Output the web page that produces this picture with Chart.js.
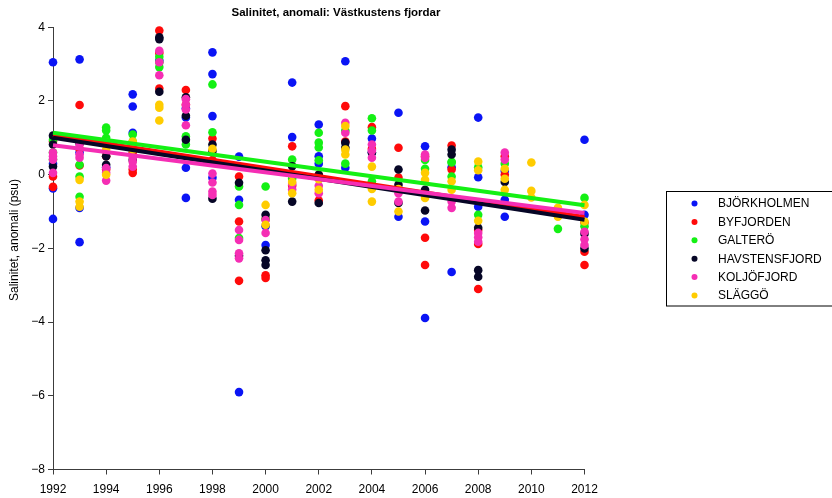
<!DOCTYPE html>
<html>
<head>
<meta charset="utf-8">
<script src="https://cdn.jsdelivr.net/npm/chart.js@4.4.1/dist/chart.umd.min.js"></script>
<style>
    html, body { margin: 0; padding: 0; background: #fff; }
    #wrap { position: relative; width: 832px; height: 498px; }
</style>
</head>
<body>
<div id="wrap"><canvas id="salinityChart" width="832" height="498"></canvas></div>
<script>
// Years of the measurement columns
const years = [1992, 1993, 1994, 1995, 1996, 1997, 1998, 1999, 2000, 2001, 2002,
               2003, 2004, 2005, 2006, 2007, 2008, 2009, 2010, 2011, 2012];

// Salinity anomaly (psu), one list of readings per year
const bjorkholmen = [[3.05, -0.37, -1.2, 0.3], [3.13, -0.9, -1.83, 0.6], [0.2, 0.9], [2.18, 1.85, 1.14],
    [3.1], [1.55, 0.19, -0.63, 1.8], [3.32, 2.73, 1.59, -0.08], [0.49, -0.68, -5.9], [-1.91, -1.4],
    [2.5, 1.02], [1.36, 0.5, 0.3], [3.08, 0.19], [0.98, 0.6], [1.68, -1.14], [0.77, -1.27, -3.89],
    [0.2, -2.64], [1.55, -0.07, -0.87], [-0.68, -1.14, 0.1], [], [], [0.95, -1.09]];
const byfjorden = [[-0.05, -0.33, 0.9], [1.89, 0.25, 0.7], [0.14, 0.5], [0.14, 0.05, 0.6],
    [3.91, 2.34, 3.3], [2.3, 1.9], [0.98, 0.4], [-0.05, -1.27, -2.88], [-2.73, -2.8, -1.2],
    [0.77, -0.3], [-0.7, 0.0], [1.86, 0.9], [1.29, 0.7], [0.73, -0.08], [-1.71, -2.45, 0.5],
    [0.79, 0.14], [-1.88, -3.1, -1.5], [0.0, 0.5], [], [], [-2.09, -2.45, -1.3]];
const galtero = [[0.41, 0.95, 0.6], [0.27, -0.05, -0.6], [1.28, 1.2, 1.0], [1.09, 0.9],
    [3.2, 2.92, 3.05], [1.04, 0.82], [2.45, 1.15], [-0.32, -0.82, -1.72], [-0.32, -1.2],
    [0.41, -0.1], [1.14, 0.87, 0.74, 0.39], [0.3, 1.2], [1.53, 1.2, -0.18], [-0.4], [0.16, 0.4],
    [0.35, 0.33, -0.05], [-1.09, 0.2], [0.3], [], [-1.47, -1.0], [-0.63, -1.4]];
const havstensfjord = [[1.06, 0.82, 0.22], [0.95, 0.85], [0.5, 0.27], [0.4], [3.73, 3.68, 2.25],
    [2.1, 1.6, 0.95], [0.82, 0.64, -0.65], [-0.22, -2.2], [-1.09, -2.05, -2.32, -2.45],
    [0.23, -0.73], [0.0, -0.77], [0.87, 0.74], [0.6], [0.14, -0.27, -0.77], [-0.41, -0.97],
    [0.68, 0.55], [-1.44, -2.59, -2.77], [-0.2], [], [], [-2.0, -1.6]];
const koljofjord = [[0.6, 0.41, 0.05, 0.5], [0.82, 0.46, 0.55], [0.18, 0.05, -0.16], [0.46, 0.22, 0.35],
    [3.36, 3.05, 2.7], [2.05, 1.77, 1.34, 1.9], [0.03, -0.21, -0.46, -0.55], [-1.5, -1.77, -2.13, -2.27],
    [-1.23, -1.58], [-0.25, -0.4], [-0.5, -0.3], [1.41, 1.14], [0.82, 0.65, 0.46], [-0.5, -0.73],
    [0.55, 0.46], [-0.73, -0.9], [-1.58, -1.7, -1.82], [0.6, 0.41], [], [], [-1.55, -1.75, -1.91]];
const slaggo = [[], [-0.14, -0.73, -0.87], [0.87, 0.68, 0.0], [0.9, 0.68], [1.9, 1.82, 1.47], [],
    [0.7], [], [-0.82, -1.36], [0.0, -0.2, -0.5], [-0.12, -0.41], [1.32, 0.68, 0.55],
    [0.22, -0.39, -0.73], [-0.39, -1.0], [0.05, -0.14, -0.63], [-0.18, -0.41], [0.36, 0.12, -1.25],
    [0.16, -0.11, -0.41], [0.33, -0.44, -0.62], [-0.9, -1.0, -1.14], [-0.82, -1.27]];

// Trend lines, value at first and last year
const trendYears = [1992, 2012];
const trendByfjorden = [1.07, -1.15];
const trendGaltero = [1.14, -0.83];
const trendHavstensfjord = [1.0, -1.22];
const trendKoljofjord = [0.8, -1.04];

const yTicks = [-8, -6, -4, -2, 0, 2, 4];
const xTicks = [1992, 1994, 1996, 1998, 2000, 2002, 2004, 2006, 2008, 2010, 2012];

const chartTitle = 'Salinitet, anomali: Västkustens fjordar';
const yTitle = 'Salinitet, anomali (psu)';

const FONT = '"Liberation Sans", Arial, Helvetica, sans-serif';

const series = [
    { label: 'BJÖRKHOLMEN', data: bjorkholmen, color: '#0a14f5', order: 9 },
    { label: 'BYFJORDEN', data: byfjorden, color: '#ff0a0a', order: 8 },
    { label: 'GALTERÖ', data: galtero, color: '#14f014', order: 7 },
    { label: 'HAVSTENSFJORD', data: havstensfjord, color: '#060626', order: 6 },
    { label: 'KOLJÖFJORD', data: koljofjord, color: '#f52eb4', order: 5 },
    { label: 'SLÄGGÖ', data: slaggo, color: '#ffcc00', order: 4 }
];

const trends = [
    { values: trendByfjorden, color: '#ff0a0a', order: 3 },
    { values: trendGaltero, color: '#14f014', order: 2 },
    { values: trendHavstensfjord, color: '#060626', order: 1 },
    { values: trendKoljofjord, color: '#f52eb4', order: 0 }
];

function toPoints(perYear) {
    const pts = [];
    perYear.forEach(function(vals, i) {
        vals.forEach(function(v) { pts.push({ x: years[i], y: v }); });
    });
    return pts;
}

const datasets = [];
series.forEach(function(s) {
    datasets.push({
        type: 'scatter',
        label: s.label,
        data: toPoints(s.data),
        backgroundColor: s.color,
        borderWidth: 0,
        pointRadius: 4.3,
        order: s.order,
        clip: false
    });
});
trends.forEach(function(t) {
    datasets.push({
        type: 'line',
        label: 'trend',
        data: trendYears.map(function(yr, i) { return { x: yr, y: t.values[i] }; }),
        borderColor: t.color,
        borderWidth: 4,
        pointRadius: 0,
        fill: false,
        order: t.order,
        clip: false
    });
});

// Title, y axis title and boxed legend drawn on the canvas
const decorations = {
    id: 'decorations',
    afterDraw(chart) {
        const ctx = chart.ctx;
        ctx.save();
        ctx.fillStyle = '#000';
        ctx.textBaseline = 'middle';

        ctx.font = 'bold 11.5px ' + FONT;
        ctx.textAlign = 'center';
        ctx.fillText(chartTitle, 336, 13);

        ctx.save();
        ctx.translate(15, 240);
        ctx.rotate(-Math.PI / 2);
        ctx.font = '12px ' + FONT;
        ctx.fillText(yTitle, 0, 0);
        ctx.restore();

        // legend box, its right edge runs past the canvas
        ctx.strokeStyle = '#000';
        ctx.lineWidth = 1;
        ctx.strokeRect(666.5, 191.5, 190, 114.5);
        ctx.font = '12px ' + FONT;
        ctx.textAlign = 'left';
        series.forEach(function(s, i) {
            const y = 203.5 + i * 18.4;
            ctx.fillStyle = s.color;
            ctx.beginPath();
            ctx.arc(694.5, y, 3, 0, Math.PI * 2);
            ctx.fill();
            ctx.fillStyle = '#000';
            ctx.fillText(s.label, 718, y + 0.5);
        });
        ctx.restore();
    }
};

const axisColor = '#3c3c3c';

new Chart(document.getElementById('salinityChart'), {
    type: 'scatter',
    data: { datasets: datasets },
    options: {
        responsive: false,
        animation: false,
        layout: { padding: { top: 27.3, right: 247.5, bottom: 0, left: 0 } },
        plugins: {
            legend: { display: false },
            title: { display: false },
            tooltip: { enabled: false }
        },
        scales: {
            x: {
                type: 'linear',
                min: 1992,
                max: 2012,
                afterFit: function(scale) { scale.height = 28.5; },
                afterBuildTicks: function(scale) { scale.ticks = xTicks.map(function(v) { return { value: v }; }); },
                ticks: {
                    autoSkip: false,
                    maxRotation: 0,
                    padding: 8,
                    color: '#000',
                    font: { family: FONT, size: 12 },
                    callback: function(v) { return String(v); }
                },
                grid: { drawOnChartArea: false, drawTicks: true, tickLength: 5, color: axisColor },
                border: { display: true, color: axisColor, width: 1 }
            },
            y: {
                min: -8,
                max: 4,
                afterFit: function(scale) { scale.width = 53; },
                afterBuildTicks: function(scale) { scale.ticks = yTicks.map(function(v) { return { value: v }; }); },
                ticks: {
                    padding: 3,
                    color: '#000',
                    font: { family: FONT, size: 12 },
                    callback: function(v) { return String(v).replace('-', '\u2212'); }
                },
                grid: { drawOnChartArea: false, drawTicks: true, tickLength: 5, color: axisColor },
                border: { display: true, color: axisColor, width: 1 }
            }
        }
    },
    plugins: [decorations]
});
</script>
</body>
</html>
